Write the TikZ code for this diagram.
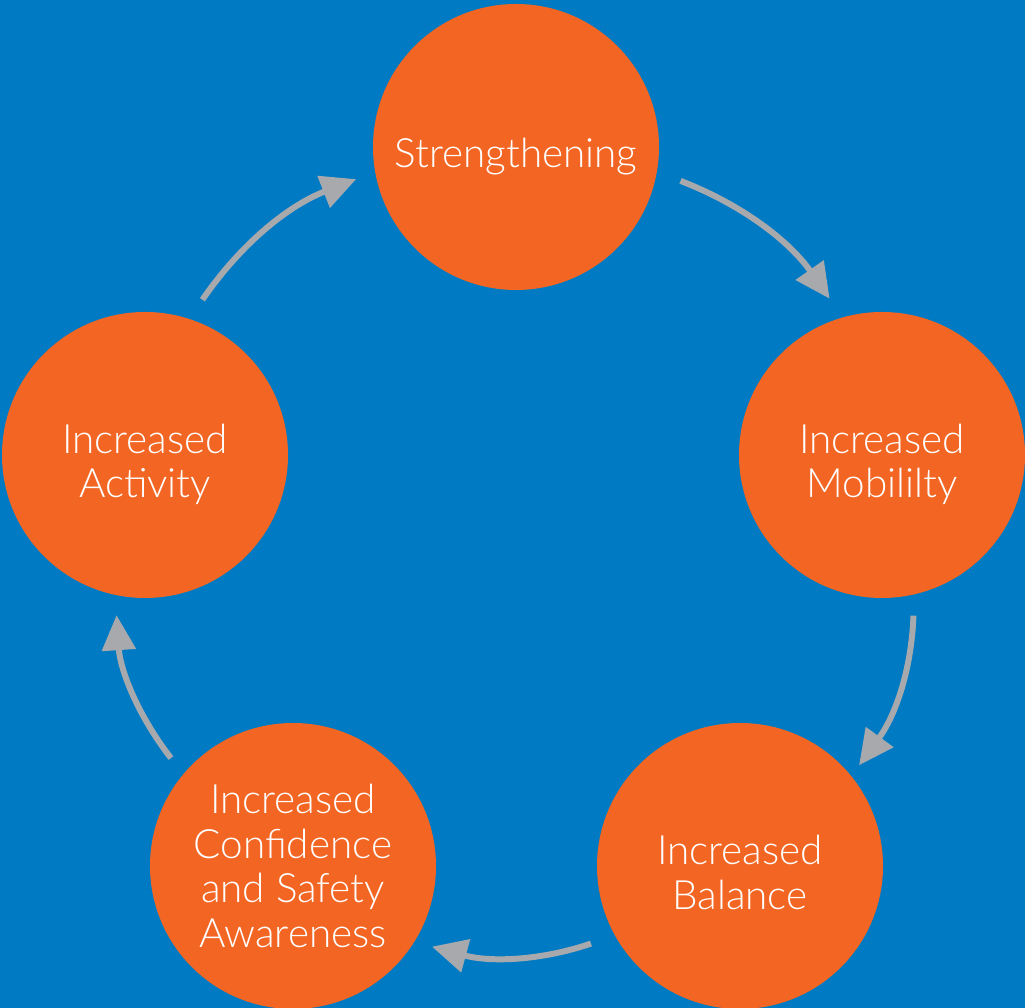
\documentclass[tikz,border=0pt]{standalone}
\usepackage{fontspec}
\setmainfont{Lato Light}
\usetikzlibrary{arrows.meta}

\definecolor{bgblue}{HTML}{007BC3}
\definecolor{cycorange}{HTML}{F26522}
\definecolor{arrowgray}{HTML}{A7A9AC}

% taller first line, drops short labels a little below centre
\newcommand{\droptext}{\rule{0pt}{0.97cm}}

\tikzset{
  stage/.style={circle, fill=cycorange, minimum size=5.72cm, inner sep=0pt,
    text=white, align=center, font=\fontsize{23}{25.4}\selectfont},
  cycarrow/.style={draw=arrowgray, line width=3.4pt,
    -{Triangle[length=0.7cm, width=0.66cm]}},
}

\begin{document}
\begin{tikzpicture}
  % background
  \fill[bgblue] (0,0) rectangle (20.5,20.16);
  \useasboundingbox (0,0) rectangle (20.5,20.16);
  % the five stages
  \node[stage] (strength) at (10.32,17.22) {\droptext Strengthening};
  \node[stage] (mobility) at (17.64,11.06) {\droptext Increased\\Mobililty};
  \node[stage] (balance)  at (14.80,2.84)  {\rule{0pt}{0.85cm}Increased\\Balance};
  \node[stage] (confid)   at (5.86,2.84)   {Increased\\Confidence\\and Safety\\Awareness};
  \node[stage] (activity) at (2.90,11.06)  {\droptext Increased\\Activity};
  % arrows round the cycle
  \draw[cycarrow, shorten <=0.5cm, shorten >=0.45cm] (strength.-10) to[bend left=17] (mobility.106);
  \draw[cycarrow, shorten <=0.42cm, shorten >=0.26cm] (mobility.-77) to[bend left=17] (balance.39);
  \draw[cycarrow, shorten <=0.5cm, shorten >=0.36cm] (balance.209) to[bend left=17] (confid.-32);
  \draw[cycarrow, shorten <=0.4cm, shorten >=0.4cm] (confid.140) to[bend left=17] (activity.258);
  \draw[cycarrow, shorten <=0.46cm, shorten >=0.4cm] (activity.72) to[bend left=17] (strength.190);
\end{tikzpicture}
\end{document}
